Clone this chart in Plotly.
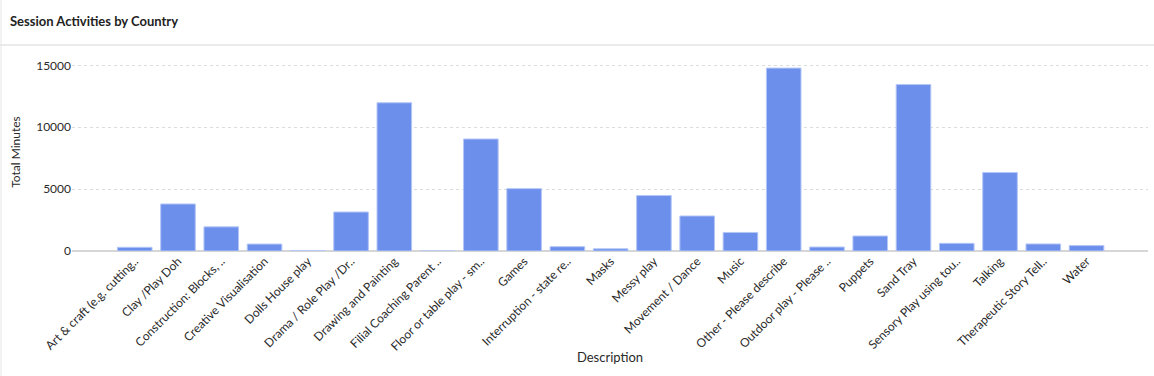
import plotly.graph_objects as go

categories = [
    "Art & craft (e.g. cutting..", "Clay /Play Doh", "Construction: Blocks, ..",
    "Creative Visualisation", "Dolls House play", "Drama / Role Play /Dr..",
    "Drawing and Painting", "Filial Coaching Parent ..", "Floor or table play - sm..",
    "Games", "Interruption - state re..", "Masks", "Messy play", "Movement / Dance",
    "Music", "Other - Please describe", "Outdoor play - Please ..", "Puppets",
    "Sand Tray", "Sensory Play using tou..", "Talking", "Therapeutic Story Tell..", "Water",
]
total_minutes = [
    300, 3800, 1950, 560, 40, 3150, 11980, 0, 9050,
    5040, 350, 180, 4480, 2830, 1500, 14780, 320, 1210,
    13450, 620, 6340, 570, 440,
]
y_ticks = [0, 5000, 10000, 15000]

W, H = 1154, 376
L, R, T, B = 72, 6, 53, 125
pw, ph = W - L - R, H - T - B

fig = go.Figure(go.Bar(
    x=categories, y=total_minutes,
    marker=dict(color="#6d8fec", line=dict(color="#b3c6f6", width=1)),
    hovertemplate="%{x}: %{y}<extra></extra>",
))

font = "Lato, 'Open Sans', sans-serif"
fig.update_layout(
    width=W, height=H,
    margin=dict(l=L, r=R, t=T, b=B, autoexpand=False),
    paper_bgcolor="white", plot_bgcolor="white",
    bargap=0.2,
    showlegend=False,
    font=dict(family=font, size=12, color="#2a2a2a"),
    title=dict(text="<b>Session Activities by Country</b>", x=10 / W, xanchor="left",
               y=1 - 21 / H, yanchor="middle", font=dict(size=13, color="#222222", family=font)),
    xaxis=dict(
        range=[-1.45, len(categories) - 1 + 1.42],
        tickangle=-45, showgrid=False, zeroline=False,
        showline=False, ticks="",
        tickfont=dict(size=12, color="#2a2a2a"),
        title=dict(text="Description", font=dict(size=13, color="#2a2a2a"), standoff=0),
    ),
    yaxis=dict(
        range=[0, 16000], tickvals=y_ticks, tickformat="d",
        showgrid=True, gridcolor="#dcdcdc", griddash="dot", gridwidth=1,
        zeroline=True, zerolinecolor="#d6d6d6", zerolinewidth=2,
        ticks="", tickfont=dict(size=12, color="#2a2a2a"),
        title=dict(text="Total Minutes", font=dict(size=12, color="#2a2a2a"), standoff=12),
    ),
    shapes=[
        dict(type="line", xref="paper", yref="paper",
             x0=(0 - L) / pw, x1=(W - L) / pw,
             y0=(H - B - 45) / ph, y1=(H - B - 45) / ph,
             line=dict(color="#ebebeb", width=2)),
        dict(type="line", xref="paper", yref="paper",
             x0=(1 - L) / pw, x1=(1 - L) / pw,
             y0=(H - B - 0) / ph, y1=(H - B - H) / ph,
             line=dict(color="#e6e6e6", width=1)),
    ],
)

fig.write_html(
    "out.html",
    config={"displayModeBar": False},
    post_script="document.body.style.margin='0';document.body.style.overflow='hidden';",
)
